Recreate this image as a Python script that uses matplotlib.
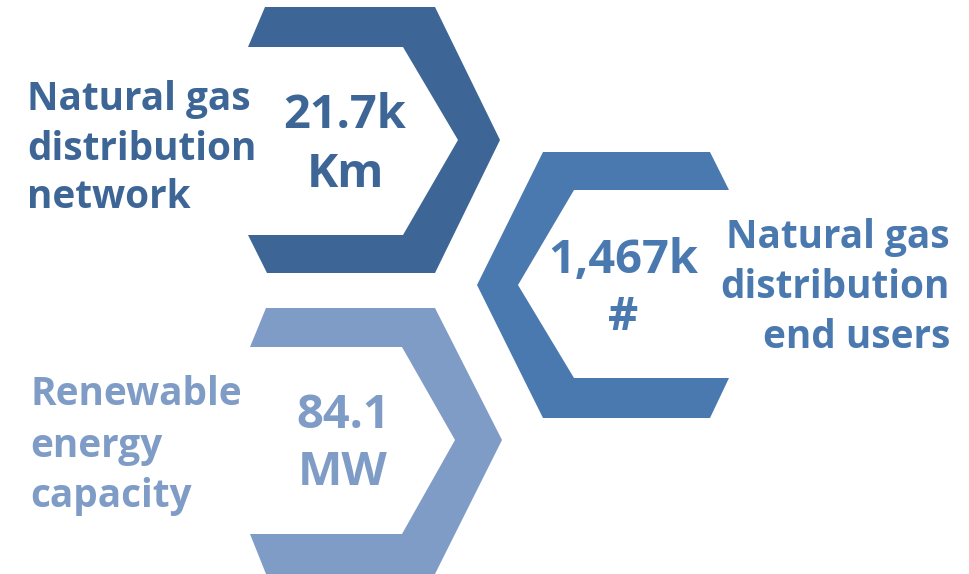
import matplotlib
matplotlib.use("Agg")
import matplotlib.pyplot as plt
from matplotlib.patches import Polygon

# ---- data ----
labels = ["Natural gas\ndistribution\nnetwork",
          "Natural gas\ndistribution\nend users",
          "Renewable\nenergy\ncapacity"]
values = ["21.7k", "1,467k", "84.1"]
units = ["Km", "#", "MW"]
colors = ["#3D6696", "#4A79B0", "#7F9CC7"]

W, H = 970, 574
fig = plt.figure(figsize=(W / 100, H / 100), dpi=100)
ax = fig.add_axes([0, 0, 1, 1])
ax.set_xlim(0, W)
ax.set_ylim(H, 0)
ax.axis("off")

FONT = ["Open Sans"]

# chevron shapes (pixel geometry)
shapes = [
    [(265, 7), (435, 7), (500, 140), (435, 273), (267, 273), (248, 235),
     (403, 235), (458, 140), (403, 47), (248, 47)],
    [(543, 152), (710, 152), (729, 190), (574, 190), (518, 285), (574, 378),
     (729, 378), (710, 418), (543, 418), (477, 285)],
    [(266, 308), (435, 308), (502, 440), (435, 574), (266, 574), (250, 534),
     (402, 534), (455, 440), (402, 347), (250, 347)],
]
for pts, c in zip(shapes, colors):
    ax.add_patch(Polygon(pts, closed=True, facecolor=c, edgecolor="none"))

renderer = fig.canvas.get_renderer()


def fit_size(text, target_px, base=20):
    t = ax.text(0, 0, text, fontsize=base, fontweight="bold", family=FONT)
    w = t.get_window_extent(renderer).width
    t.remove()
    return base * target_px / w


label_fs = fit_size("distribution", 230)
value_fs = fit_size("21.7k", 123)

# label texts
label_pos = [(27, [110, 160, 208], "left"),
             (950, [248, 298, 348], "right"),
             (30, [405, 457, 507], "left")]
for lab, (x, ys, ha), c in zip(labels, label_pos, colors):
    for line, y in zip(lab.split("\n"), ys):
        ax.text(x, y, line, ha=ha, va="baseline", fontsize=label_fs,
                fontweight="bold", color=c, family=FONT)

# value texts
value_pos = [(345, 128, 187), (623, 273, 330), (343, 428, 485)]
for v, u, (x, y1, y2), c in zip(values, units, value_pos, colors):
    ax.text(x, y1, v, ha="center", va="baseline", fontsize=value_fs,
            fontweight="bold", color=c, family=FONT)
    ax.text(x, y2, u, ha="center", va="baseline", fontsize=value_fs,
            fontweight="bold", color=c, family=FONT)

fig.savefig("out.png", dpi=100)
